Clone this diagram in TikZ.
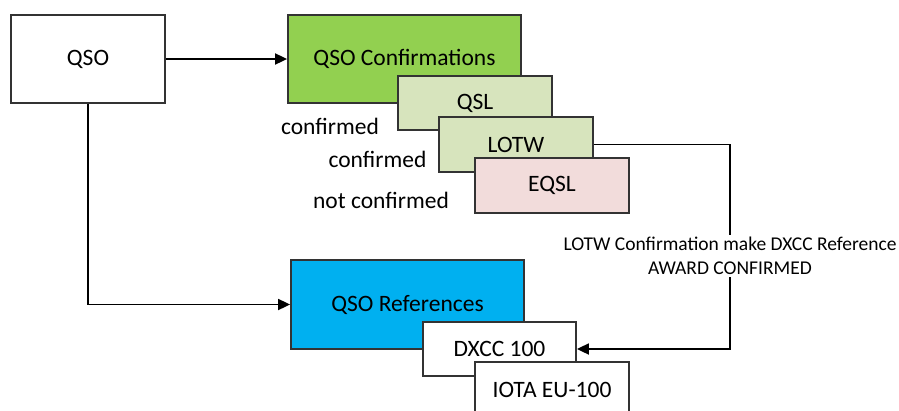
\documentclass[tikz,border=0pt]{standalone}
\usepackage{fontspec}
\setmainfont{Carlito}
\usetikzlibrary{arrows.meta}
\definecolor{cgreen}{HTML}{92D050}
\definecolor{clgreen}{HTML}{D7E4BD}
\definecolor{cpink}{HTML}{F2DCDB}
\definecolor{cblue}{HTML}{00B0F0}
\definecolor{cline}{HTML}{333333}
\begin{document}
\begin{tikzpicture}[x=1pt,y=-1pt,
  box/.style={draw=cline,line width=1.8pt,rectangle,inner sep=0pt,font=\fontsize{23.5}{28}\selectfont,text=black},
  lbl/.style={inner sep=0pt,font=\fontsize{23.5}{28}\selectfont,text=black},
  arr/.style={draw=black,line width=1.8pt,-{Triangle[length=12pt,width=11pt]}}]
\useasboundingbox (0,0) rectangle (899,410);
\node[box,minimum width=154pt,minimum height=88pt,fill=white] (qso) at (88,59) {QSO};
\node[box,minimum width=233pt,minimum height=88pt,fill=cgreen] (conf) at (404.5,59) {QSO Confirmations};
\node[box,minimum width=154pt,minimum height=54pt,fill=clgreen] (qsl) at (475,103) {QSL};
\node[box,minimum width=154pt,minimum height=55pt,fill=clgreen] (lotw) at (516,144.5) {LOTW};
\node[box,minimum width=154pt,minimum height=55pt,fill=cpink] (eqsl) at (552,185.5) {EQSL};
\node[box,minimum width=233pt,minimum height=89pt,fill=cblue] (refs) at (407.5,304.5) {QSO References};
\node[box,minimum width=153pt,minimum height=54pt,fill=white] (dxcc) at (499.5,349) {DXCC 100};
\node[box,minimum width=154pt,minimum height=56pt,fill=white] (iota) at (552,390) {IOTA EU-100};
\node[lbl] (l1) at (330,126) {confirmed};
\node[lbl] (l2) at (377.5,159) {confirmed};
\node[lbl] (l3) at (381,200) {not confirmed};
\coordinate (turn) at (730,144.5);
\draw[arr] (qso) -- (conf);
\draw[arr] (qso.south) |- (refs.west);
\draw[arr] (lotw.east) -- (turn) |- (dxcc.east);
\node[fill=white,inner sep=2pt,align=center,font=\fontsize{19.5}{24}\selectfont] (note) at (730,256) {LOTW Confirmation make DXCC Reference\\AWARD CONFIRMED};
\end{tikzpicture}
\end{document}
